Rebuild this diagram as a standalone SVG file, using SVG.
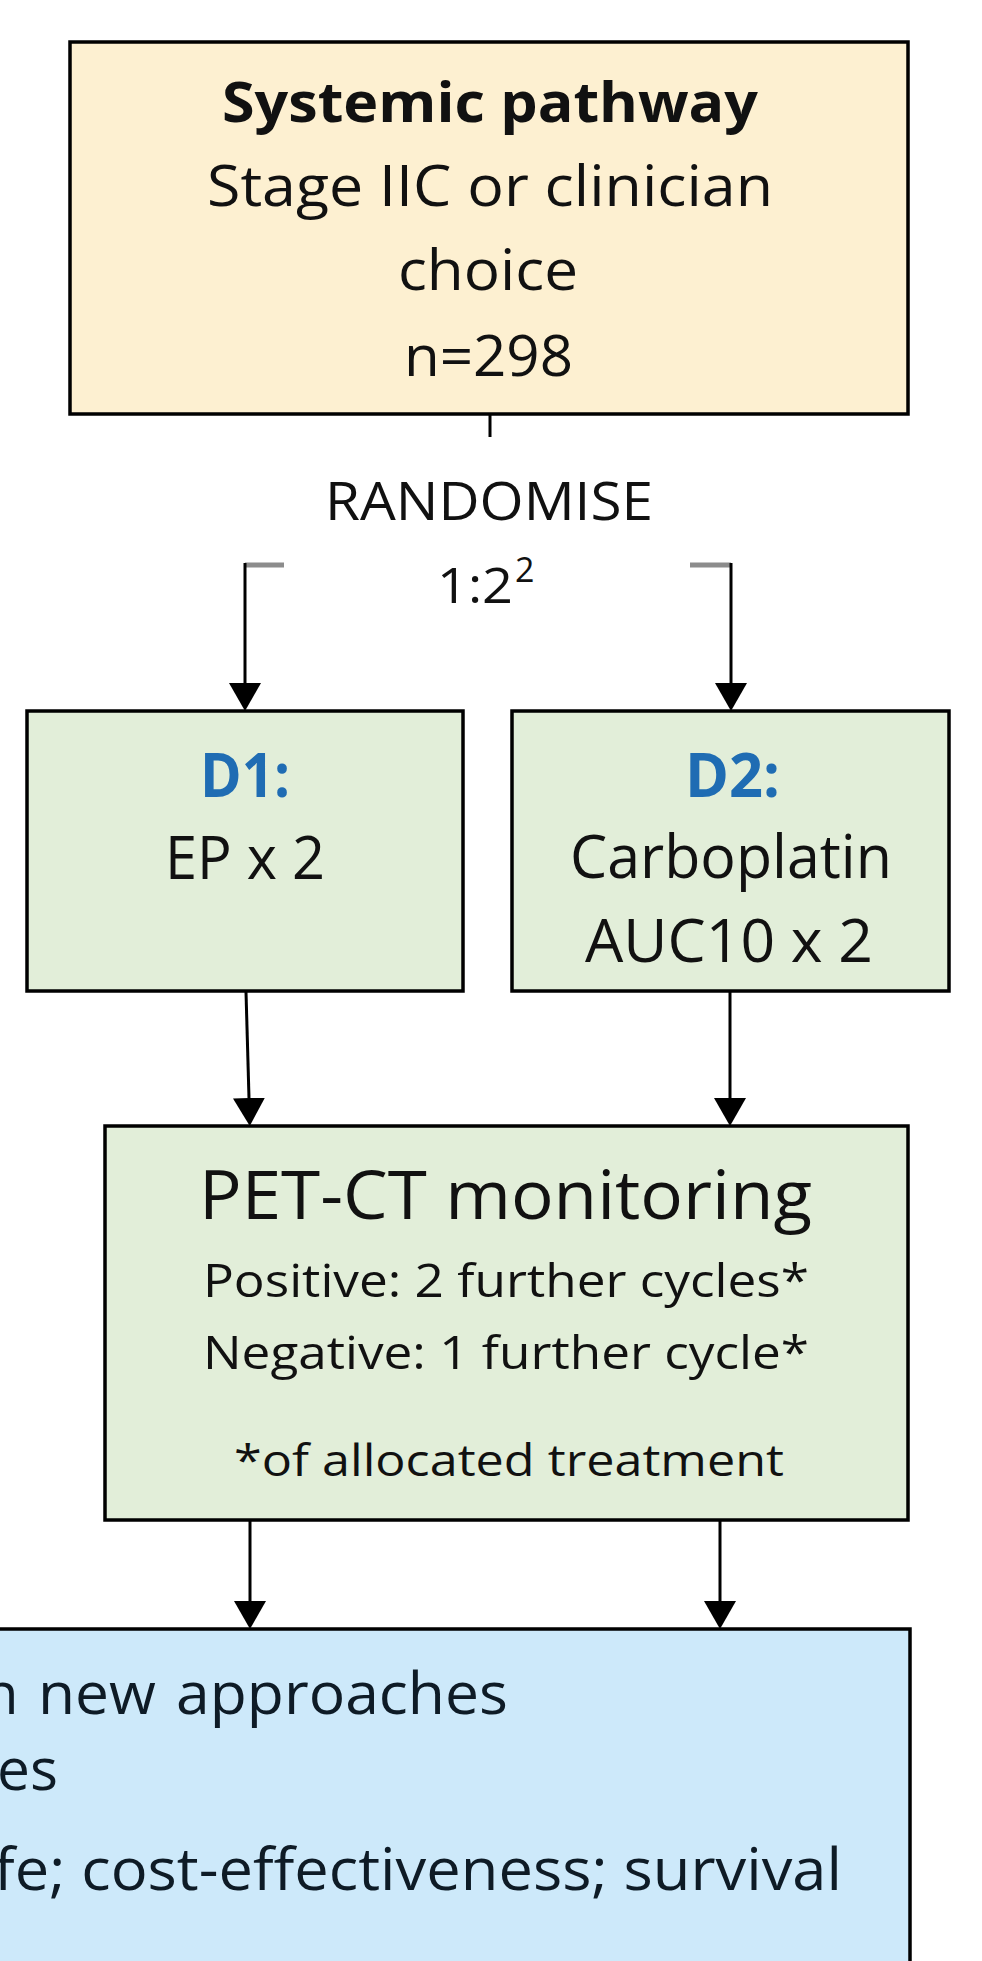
<svg xmlns="http://www.w3.org/2000/svg" width="982" height="1961" viewBox="0 0 982 1961">
  <style>
    .box{stroke:#000;stroke-width:3.5}
    .cream{fill:#fdf0d1}
    .green{fill:#e2eed9}
    .blue{fill:#cde9fa}
    .t{font-family:"Open Sans","Liberation Sans",sans-serif;fill:#111}
    .bt{fill:#0e1b26}
    .b{font-weight:700}
    .dl{fill:#1f6cb3;font-weight:700}
    .conn{stroke:#000;stroke-width:3;fill:none}
    .stub{stroke:#8c8c8c;stroke-width:5;fill:none}
  </style>
  <defs>
    <marker id="arrow" markerUnits="userSpaceOnUse" markerWidth="28" markerHeight="32" viewBox="0 0 28 32" refX="0" refY="16" orient="auto">
      <path d="M0,0 L28,16 L0,32 z" fill="#000"/>
    </marker>
  </defs>

  <rect x="0" y="0" width="982" height="1961" fill="#fff"/>

  <!-- entry node -->
  <g id="systemic">
    <rect class="box cream" x="70" y="42" width="838" height="372"/>
    <text class="t b" x="222" y="122" font-size="55" textLength="536" lengthAdjust="spacingAndGlyphs">Systemic pathway</text>
    <text class="t" x="207" y="206" font-size="57" textLength="566" lengthAdjust="spacingAndGlyphs">Stage IIC or clinician</text>
    <text class="t" x="398" y="290" font-size="57" textLength="180" lengthAdjust="spacingAndGlyphs">choice</text>
    <text class="t" x="404" y="376" font-size="57" textLength="169" lengthAdjust="spacingAndGlyphs">n=298</text>
  </g>

  <!-- randomisation label -->
  <g id="randomise">
    <text class="t" x="325" y="520" font-size="53" textLength="328" lengthAdjust="spacingAndGlyphs">RANDOMISE</text>
    <text class="t" font-size="50"><tspan x="437" y="603" textLength="76" lengthAdjust="spacingAndGlyphs">1:2</tspan><tspan x="515" y="582" font-size="34">2</tspan></text>
  </g>

  <!-- arm D1 -->
  <g id="d1">
    <rect class="box green" x="27" y="711" width="436" height="280"/>
    <text class="t dl" x="200" y="797" font-size="60" textLength="90" lengthAdjust="spacingAndGlyphs">D1:</text>
    <text class="t" x="165" y="879" font-size="60" textLength="160" lengthAdjust="spacingAndGlyphs">EP x 2</text>
  </g>

  <!-- arm D2 -->
  <g id="d2">
    <rect class="box green" x="512" y="711" width="437" height="280"/>
    <text class="t dl" x="685" y="797" font-size="60" textLength="95" lengthAdjust="spacingAndGlyphs">D2:</text>
    <text class="t" x="570" y="878" font-size="60" textLength="322" lengthAdjust="spacingAndGlyphs">Carboplatin</text>
    <text class="t" x="585" y="962" font-size="60" textLength="288" lengthAdjust="spacingAndGlyphs">AUC10 x 2</text>
  </g>

  <!-- PET-CT monitoring -->
  <g id="petct">
    <rect class="box green" x="105" y="1126" width="803" height="394"/>
    <text class="t" x="199" y="1219" font-size="67" textLength="613" lengthAdjust="spacingAndGlyphs">PET-CT monitoring</text>
    <text class="t" x="203" y="1297" font-size="46" textLength="606" lengthAdjust="spacingAndGlyphs">Positive: 2 further cycles*</text>
    <text class="t" x="203" y="1369" font-size="46" textLength="606" lengthAdjust="spacingAndGlyphs">Negative: 1 further cycle*</text>
    <text class="t" x="234" y="1476" font-size="44" textLength="550" lengthAdjust="spacingAndGlyphs">*of allocated treatment</text>
  </g>

  <!-- outcomes (box runs past the left and bottom edges) -->
  <g id="outcomes">
    <rect class="box blue" x="-10" y="1629" width="920" height="400"/>
    <text class="t bt" y="1714" font-size="58"><tspan x="-17">n</tspan> <tspan x="38" textLength="118" lengthAdjust="spacingAndGlyphs">new</tspan> <tspan x="176" textLength="332" lengthAdjust="spacingAndGlyphs">approaches</tspan></text>
    <text class="t bt" x="-3" y="1790" font-size="58" textLength="61" lengthAdjust="spacingAndGlyphs">es</text>
    <text class="t bt" x="-6" y="1890" font-size="58" textLength="848" lengthAdjust="spacingAndGlyphs">fe; cost-effectiveness; survival</text>
  </g>

  <!-- connectors -->
  <g id="connectors">
    <line class="conn" x1="490" y1="414" x2="490" y2="437"/>
    <line class="stub" x1="245" y1="565" x2="284" y2="565"/>
    <line class="conn" x1="245" y1="563" x2="245" y2="683" marker-end="url(#arrow)"/>
    <line class="stub" x1="690" y1="565" x2="731" y2="565"/>
    <line class="conn" x1="731" y1="563" x2="731" y2="683" marker-end="url(#arrow)"/>
    <line class="conn" x1="246" y1="992" x2="249" y2="1098" marker-end="url(#arrow)"/>
    <line class="conn" x1="730" y1="992" x2="730" y2="1098" marker-end="url(#arrow)"/>
    <line class="conn" x1="250" y1="1520" x2="250" y2="1601" marker-end="url(#arrow)"/>
    <line class="conn" x1="720" y1="1520" x2="720" y2="1601" marker-end="url(#arrow)"/>
  </g>
</svg>
